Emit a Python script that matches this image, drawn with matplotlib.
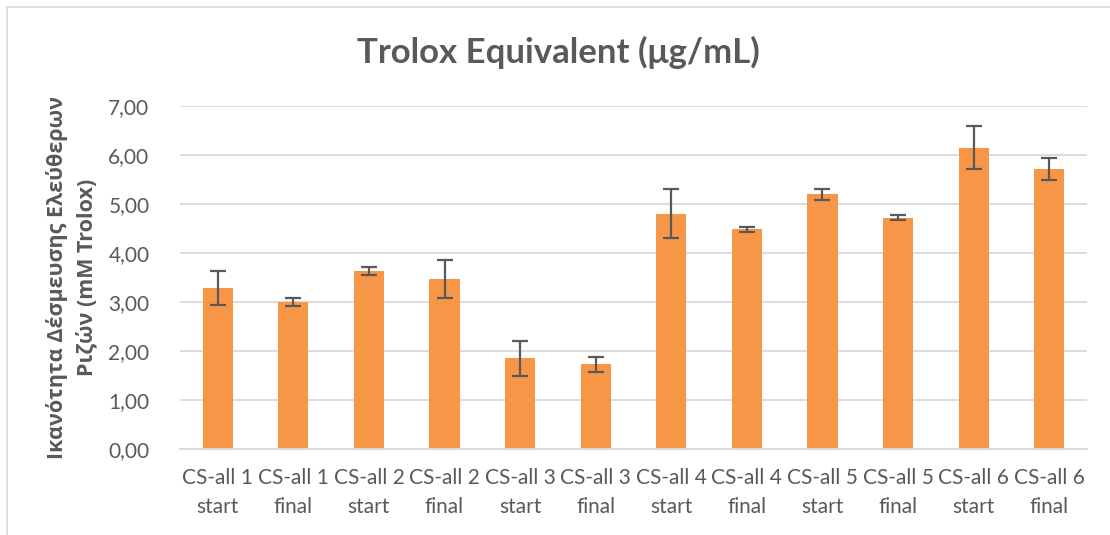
import matplotlib
matplotlib.use("Agg")
import matplotlib.pyplot as plt
from matplotlib.lines import Line2D
import numpy as np

plt.rcParams['font.family'] = ['Lato', 'Open Sans', 'DejaVu Sans']

categories = ["CS-all 1\nstart", "CS-all 1\nfinal", "CS-all 2\nstart", "CS-all 2\nfinal",
              "CS-all 3\nstart", "CS-all 3\nfinal", "CS-all 4\nstart", "CS-all 4\nfinal",
              "CS-all 5\nstart", "CS-all 5\nfinal", "CS-all 6\nstart", "CS-all 6\nfinal"]
values = [3.29, 3.00, 3.63, 3.47, 1.85, 1.73, 4.80, 4.48, 5.20, 4.72, 6.15, 5.71]
errors = [0.35, 0.09, 0.08, 0.39, 0.36, 0.15, 0.50, 0.05, 0.11, 0.05, 0.44, 0.22]
yticks = [0, 1, 2, 3, 4, 5, 6, 7]
ytick_labels = ["0,00", "1,00", "2,00", "3,00", "4,00", "5,00", "6,00", "7,00"]

text_color = "#595959"
bar_color = "#F79646"
grid_color = "#D9D9D9"

fig = plt.figure(figsize=(11.1, 5.35), dpi=100)
ax = fig.add_axes([180 / 1110, 86 / 535, 907 / 1110, 343 / 535])

x = np.arange(len(categories))
ax.bar(x, values, width=0.4, color=bar_color, zorder=2)
ax.errorbar(x, values, yerr=errors, fmt="none", ecolor=text_color,
            elinewidth=1.6, capsize=5.5, capthick=1.6, zorder=3)

ax.set_xlim(-0.5, len(categories) - 0.5)
ax.set_ylim(0, 7)
ax.set_yticks(yticks)
ax.set_yticklabels(ytick_labels)
ax.set_xticks(x)
ax.set_xticklabels(categories, linespacing=1.55)
ax.tick_params(axis="both", length=0, labelcolor=text_color, labelsize=15)
ax.tick_params(axis="y", pad=22)
ax.tick_params(axis="x", pad=14)

ax.yaxis.grid(True, color=grid_color, linewidth=1.3, zorder=0)
ax.set_axisbelow(True)
for side in ["top", "right", "left"]:
    ax.spines[side].set_visible(False)
ax.spines["bottom"].set_color(grid_color)
ax.spines["bottom"].set_linewidth(1.3)

ax.set_ylabel("Ικανότητα Δέσμευσης Ελεύθερων\nΡιζών (mM Trolox)",
              family=['Open Sans', 'DejaVu Sans'], fontsize=15.5, fontweight="bold",
              color=text_color, linespacing=1.45, labelpad=8)

fig.text(0.5027, 1 - 52 / 535, "Trolox Equivalent (μg/mL)", ha="center", va="center",
         fontsize=25, fontweight="bold", color=text_color)

# outer chart frame (left and top edges)
fig.add_artist(Line2D([7 / 1110, 7 / 1110], [0, 1 - 7 / 535], transform=fig.transFigure,
                      color="#D9D9D9", linewidth=1.2))
fig.add_artist(Line2D([7 / 1110, 1], [1 - 7 / 535, 1 - 7 / 535], transform=fig.transFigure,
                      color="#D9D9D9", linewidth=1.2))

fig.savefig("out.png", dpi=100)
